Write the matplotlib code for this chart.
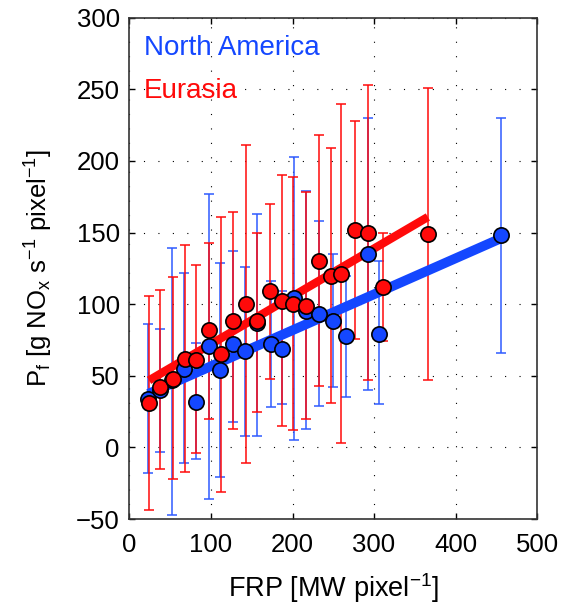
import matplotlib
matplotlib.use("Agg")
import matplotlib.pyplot as plt
import numpy as np

plt.rcParams['font.family'] = ['Liberation Sans', 'DejaVu Sans']
plt.rcParams['mathtext.fontset'] = 'custom'
plt.rcParams['mathtext.rm'] = 'Liberation Sans'
plt.rcParams['mathtext.it'] = 'Liberation Sans'
plt.rcParams['mathtext.default'] = 'regular'

# North America
na_x = [23, 37, 52, 67, 82, 98, 111, 127, 142, 157, 173, 187, 202, 217, 232, 250, 265, 293, 306, 456]
na_y = [34, 40, 47, 55, 32, 71, 54, 72, 67, 87, 72, 69, 104, 95, 93, 88, 78, 135, 79, 148]
na_lo = [-18, -3, -47, -11, -8, -36, -21, 18, 8, 8, 28, 30, 5, 13, 29, 42, 35, 40, 30, 66]
na_hi = [86, 83, 139, 122, 73, 177, 129, 137, 126, 163, 116, 109, 203, 179, 158, 135, 120, 230, 130, 230]

# Eurasia
eu_x = [24, 37, 53, 68, 82, 97, 112, 127, 143, 157, 172, 187, 201, 216, 232, 247, 260, 277, 292, 311, 366]
eu_y = [31, 42, 48, 62, 61, 82, 65, 88, 100, 88, 109, 102, 100, 99, 130, 120, 121, 152, 150, 112, 149]
eu_lo = [-44, -15, -22, -17, -4, 20, -31, 13, -11, 25, 48, 15, 12, 20, 43, 31, 3, 76, 47, 74, 47]
eu_hi = [106, 110, 119, 141, 127, 143, 161, 164, 211, 150, 170, 190, 189, 178, 218, 209, 240, 228, 253, 150, 251]

# linear fits (intercept, slope, x-range)
na_fit = (31.6, 0.251, 23, 456)
eu_fit = (38.8, 0.3335, 24, 366)

blue = '#1447ff'
blue_err = '#2f5bff'
red = '#ff0a0a'

fig = plt.figure(figsize=(5.63, 6.04), dpi=100)
ax = fig.add_axes([0.230, 0.1407, 0.724, 0.830])

def errs(y, lo, hi):
    y = np.array(y, float)
    return np.vstack([y - np.array(lo, float), np.array(hi, float) - y])

ax.errorbar(na_x, na_y, yerr=errs(na_y, na_lo, na_hi), fmt='none',
            ecolor=blue_err, elinewidth=1.1, capsize=3.5, capthick=1.1, zorder=2)
ax.errorbar(eu_x, eu_y, yerr=errs(eu_y, eu_lo, eu_hi), fmt='none',
            ecolor=red, elinewidth=1.1, capsize=3.5, capthick=1.1, zorder=2.1)

for (b, m, x0, x1), c, lw in ((na_fit, blue, 7), (eu_fit, red, 6)):
    xs = np.array([x0, x1], float)
    ax.plot(xs, b + m * xs, color=c, lw=lw, solid_capstyle='butt', zorder=3)

ax.plot(na_x, na_y, 'o', ms=11, mfc=blue, mec='black', mew=1.2, zorder=4)
ax.plot(eu_x, eu_y, 'o', ms=11, mfc=red, mec='black', mew=1.2, zorder=5)

ax.set_xlim(0, 500)
ax.set_ylim(-50, 300)
ax.set_xticks([0, 100, 200, 300, 400, 500])
ax.set_yticks([-50, 0, 50, 100, 150, 200, 250, 300])
ax.set_yticklabels(['\u221250', '0', '50', '100', '150', '200', '250', '300'])
ax.tick_params(direction='in', length=4, width=1, top=True, right=True,
               labelsize=18.5, colors='black')
ax.tick_params(axis='x', pad=10)
ax.tick_params(axis='y', pad=7)
ax.grid(True, color='black', linestyle=(0, (1, 12)), linewidth=0.8)
ax.set_axisbelow(True)
for s in ax.spines.values():
    s.set_linewidth(1.2)
    s.set_color('#333333')

ax.set_xlabel('FRP [MW pixel$^{-1}$]', fontsize=19.5, labelpad=10)
ax.set_ylabel('P$_f$ [g NO$_x$ s$^{-1}$ pixel$^{-1}$]', fontsize=18.5, labelpad=15)

ax.text(0.036, 0.925, 'North America', color=blue, fontsize=20,
        va='baseline', transform=ax.transAxes)
ax.text(0.036, 0.839, 'Eurasia', color=red, fontsize=20,
        va='baseline', transform=ax.transAxes)

fig.savefig('out.png', dpi=100)
